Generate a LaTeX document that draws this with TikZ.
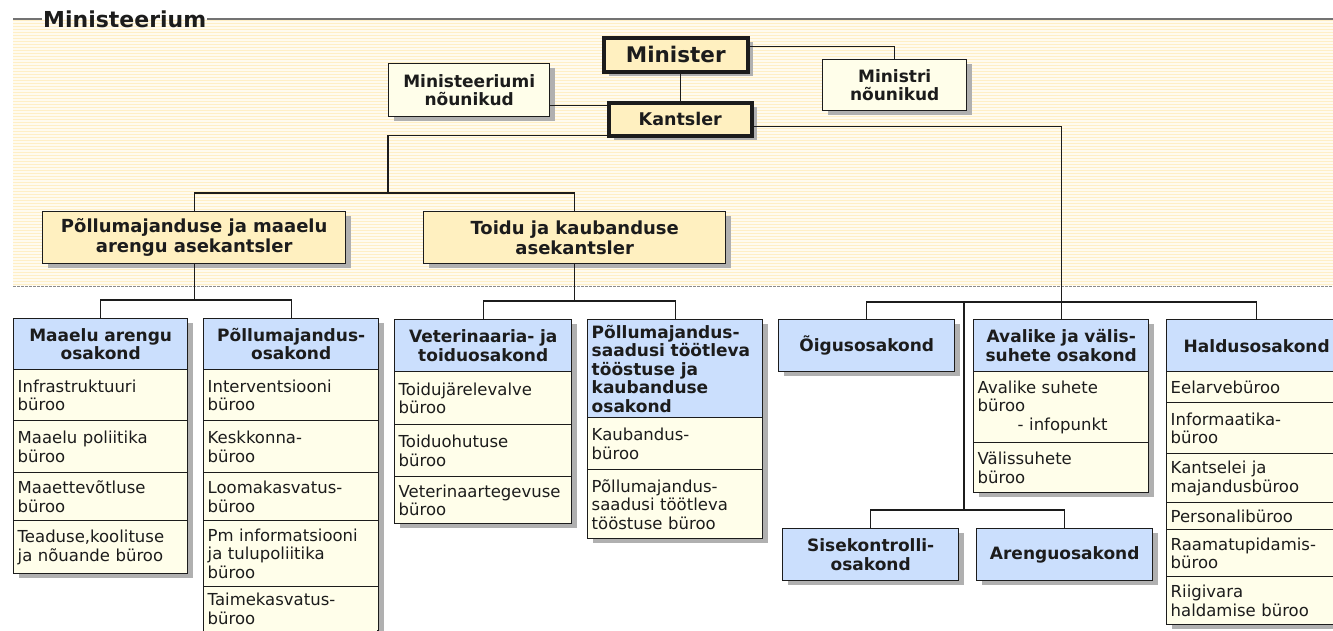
\documentclass[tikz,border=0pt]{standalone}
\usepackage{fontspec}
\setmainfont{DejaVu Sans}
\usetikzlibrary{shadows}
\definecolor{beige}{HTML}{FFF0C0}
\definecolor{pale}{HTML}{FFFEEA}
\definecolor{hblue}{HTML}{CBDFFD}
\definecolor{stripe}{HTML}{FFEFC6}
\definecolor{bandbg}{HTML}{FFFBEF}
\definecolor{shade}{HTML}{B0B0B0}
\definecolor{ink}{HTML}{1C1C1C}
\newcommand\bodyf{\fontsize{16.5}{18.5}\selectfont}
\newcommand\hdrf{\fontsize{17}{18.5}\selectfont\bfseries}
\newcommand\depf{\fontsize{18}{20}\selectfont\bfseries}
\newcommand\bossf{\fontsize{21.5}{24}\selectfont\bfseries}
\newcommand\kanf{\fontsize{17.5}{20}\selectfont\bfseries}
\newcommand\titlef{\fontsize{22}{24}\selectfont\bfseries}
\begin{document}
\begin{tikzpicture}[x=1pt,y=-1pt,
  conn/.style={draw=ink, line width=1.3pt},
  box/.style={draw=ink, line width=1.4pt, anchor=north west, inner xsep=4pt, inner ysep=1pt, text=ink,
    drop shadow={shadow xshift=5pt, shadow yshift=-4pt, fill=shade, opacity=1}},
  boss/.style={box, line width=3.5pt, fill=beige, align=center},
  advisor/.style={box, fill=pale, align=center, font=\hdrf},
  deputy/.style={box, fill=beige, align=center, font=\depf},
  hdr/.style={box, fill=hblue, align=center, font=\hdrf},
  hdrl/.style={box, fill=hblue, align=left, font=\hdrf},
  row/.style={box, fill=pale, align=left, font=\bodyf},
]
\path[use as bounding box] (0,0) rectangle (1333,630);
\clip (0,0) rectangle (1333,630);
\fill[white] (0,0) rectangle (1333,630);
% band
\fill[bandbg] (13,19) rectangle (1333,286);
\foreach \k in {0,...,88} \draw[stripe, line width=1.3pt] (13,20.5+3*\k) -- (1333,20.5+3*\k);
\draw[black!45, line width=1pt, dash pattern=on 3pt off 1pt] (13,286) -- (1333,286);
\node[anchor=west, inner xsep=1pt, text=ink, font=\titlef] (title) at (42,19) {Ministeerium};
\draw[black!55, line width=1.2pt] (13,19) -- (title.west);
\draw[black!55, line width=1.2pt] (title.east) -- (1333,19);

% top level
\node[boss, font=\bossf, minimum width=144pt, minimum height=34pt] (min) at (602,36) {Minister};
\node[boss, font=\kanf, minimum width=143pt, minimum height=33pt] (kan) at (607,101) {Kantsler};
\node[advisor, minimum width=161pt, minimum height=53pt] (mnou) at (388,63) {Ministeeriumi\\nõunikud};
\node[advisor, minimum width=144pt, minimum height=51pt] (mnou2) at (822,59) {Ministri\\nõunikud};
\node[deputy, minimum width=303pt, minimum height=52pt] (ase1) at (42,211) {Põllumajanduse ja maaelu\\arengu asekantsler};
\node[deputy, minimum width=302pt, minimum height=52pt] (ase2) at (423,211) {Toidu ja kaubanduse\\asekantsler};

% column 1
\node[hdr, minimum width=174pt, minimum height=51pt, text width=166pt] (c1h) at (13,318) {Maaelu arengu\\osakond};
\node[row, minimum width=174pt, minimum height=51pt, text width=166pt] (c1a) at (13,369) {Infrastruktuuri\\büroo};
\node[row, minimum width=174pt, minimum height=52pt, text width=166pt] (c1b) at (13,420) {Maaelu poliitika\\büroo};
\node[row, minimum width=174pt, minimum height=48pt, text width=166pt] (c1c) at (13,472) {Maaettevõtluse\\büroo};
\node[row, minimum width=174pt, minimum height=53pt, text width=166pt] (c1d) at (13,520) {Teaduse,koolituse\\ja nõuande büroo};

% column 2
\node[hdr, minimum width=175pt, minimum height=51pt, text width=167pt] (c2h) at (203,318) {Põllumajandus-\\osakond};
\node[row, minimum width=175pt, minimum height=51pt, text width=167pt] (c2a) at (203,369) {Interventsiooni\\büroo};
\node[row, minimum width=175pt, minimum height=52pt, text width=167pt] (c2b) at (203,420) {Keskkonna-\\büroo};
\node[row, minimum width=175pt, minimum height=48pt, text width=167pt] (c2c) at (203,472) {Loomakasvatus-\\büroo};
\node[row, minimum width=175pt, minimum height=66pt, text width=167pt] (c2d) at (203,520) {Pm informatsiooni\\ja tulupoliitika\\büroo};
\node[row, minimum width=175pt, minimum height=44pt, text width=167pt] (c2e) at (203,586) {Taimekasvatus-\\büroo};
\fill[pale] (204,629) rectangle (377,631);

% column 3
\node[hdr, minimum width=177pt, minimum height=52pt, text width=169pt] (c3h) at (394,319) {Veterinaaria- ja\\toiduosakond};
\node[row, minimum width=177pt, minimum height=53pt, text width=169pt] (c3a) at (394,371) {Toidujärelevalve\\büroo};
\node[row, minimum width=177pt, minimum height=52pt, text width=169pt] (c3b) at (394,424) {Toiduohutuse\\büroo};
\node[row, minimum width=177pt, minimum height=47pt, text width=169pt] (c3c) at (394,476) {Veterinaartegevuse\\büroo};

% column 4
\node[hdrl, minimum width=175pt, minimum height=98pt, text width=167pt] (c4h) at (587,319) {Põllumajandus-\\saadusi töötleva\\tööstuse ja\\kaubanduse\\osakond};
\node[row, minimum width=175pt, minimum height=52pt, text width=167pt] (c4a) at (587,417) {Kaubandus-\\büroo};
\node[row, minimum width=175pt, minimum height=69pt, text width=167pt] (c4b) at (587,469) {Põllumajandus-\\saadusi töötleva\\tööstuse büroo};

% right part
\node[hdr, minimum width=176pt, minimum height=52pt] (oig) at (778,319) {Õigusosakond};
\node[hdr, minimum width=175pt, minimum height=52pt, text width=167pt] (c6h) at (973,319) {Avalike ja välis-\\suhete osakond};
\node[row, minimum width=175pt, minimum height=71pt, text width=167pt] (c6a) at (973,371) {Avalike suhete\\büroo\\\hspace*{40pt}- infopunkt};
\node[row, minimum width=175pt, minimum height=50pt, text width=167pt] (c6b) at (973,442) {Välissuhete\\büroo};

\node[hdr, minimum width=180pt, minimum height=52pt, text width=172pt] (c7h) at (1166,319) {Haldusosakond};
\node[row, minimum width=180pt, minimum height=31pt, text width=172pt] (c7a) at (1166,371) {Eelarvebüroo};
\node[row, minimum width=180pt, minimum height=51pt, text width=172pt] (c7b) at (1166,402) {Informaatika-\\büroo};
\node[row, minimum width=180pt, minimum height=49pt, text width=172pt] (c7c) at (1166,453) {Kantselei ja\\majandusbüroo};
\node[row, minimum width=180pt, minimum height=27pt, text width=172pt] (c7d) at (1166,502) {Personalibüroo};
\node[row, minimum width=180pt, minimum height=47pt, text width=172pt] (c7e) at (1166,529) {Raamatupidamis-\\büroo};
\node[row, minimum width=180pt, minimum height=48pt, text width=172pt] (c7f) at (1166,576) {Riigivara\\haldamise büroo};

\node[hdr, minimum width=176pt, minimum height=52pt] (sis) at (782,528) {Sisekontrolli-\\osakond};
\node[hdr, minimum width=176pt, minimum height=52pt] (are) at (976,528) {Arenguosakond};

% connectors
\draw[conn] (kan.north) -- (kan.north |- min.south);
\draw[conn] ([yshift=-15.5pt]mnou.east) -- ([yshift=-15.5pt]mnou.east -| kan.west);
\draw[conn] ([yshift=8pt]min.east) -| (mnou2.north);
\coordinate (j1) at (388,193);
\draw[conn] ([yshift=2pt]kan.south west) -| (j1);
\draw[conn] (ase1.north) |- (j1) -| (ase2.north);
\draw[conn] ([yshift=-7.5pt]kan.east) -| (c6h.north);

\coordinate (b1) at ([yshift=18pt]c1h.north);
\draw[conn] (c1h.north) -- (b1) -| (c2h.north);
\draw[conn] (ase1.south) -- (ase1.south |- b1);
\coordinate (b2) at ([yshift=18pt]c3h.north);
\draw[conn] (c3h.north) -- (b2) -| (c4h.north);
\draw[conn] (ase2.south) -- (ase2.south |- b2);
\coordinate (b3) at ([yshift=17pt]oig.north);
\draw[conn] (oig.north) -- (b3) -| (c7h.north);
\coordinate (b5) at ([yshift=18pt]sis.north);
\draw[conn] (sis.north) -- (b5) -| (are.north);
\coordinate (t1) at (964,302);
\coordinate (t2) at (964,510);
\draw[conn] (t1) -- (t2);
\end{tikzpicture}
\end{document}
